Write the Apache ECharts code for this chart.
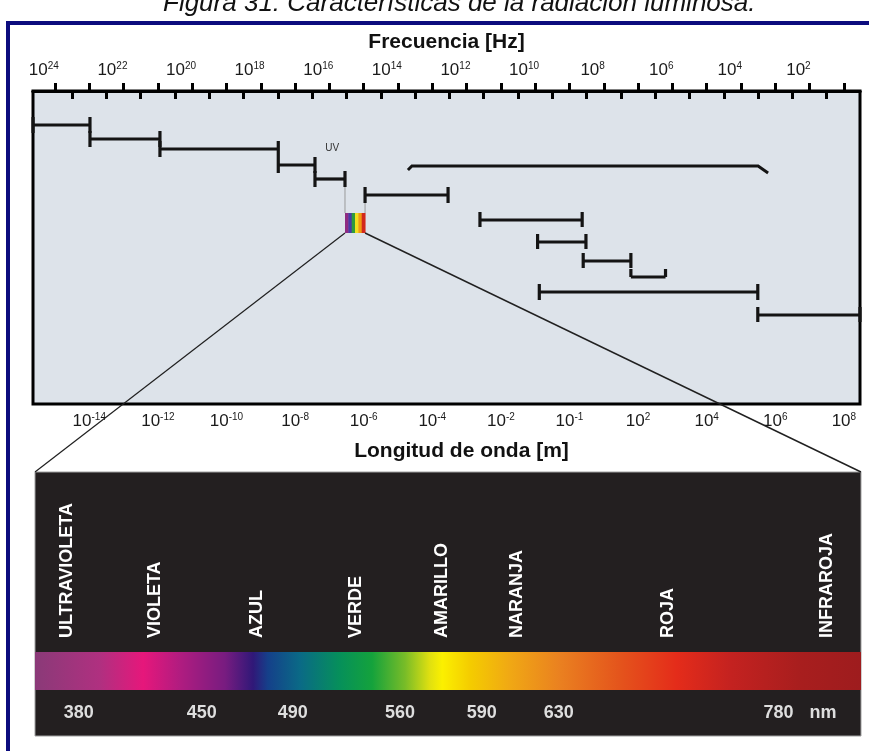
<!DOCTYPE html>
<html><head><meta charset="utf-8">
<script src="https://cdn.jsdelivr.net/npm/echarts@6/dist/echarts.min.js"></script>
<style>html,body{margin:0;padding:0;background:#fff}#c{width:869px;height:751px}</style>
</head><body><div id="c"></div>
<script>
// ================= DATA =================
// wavelength axis: log10(lambda / m)
const wlTickExps  = [-15,-14,-13,-12,-11,-10,-9,-8,-7,-6,-5,-4,-3,-2,-1,0,1,2,3,4,5,6,7,8];
const wlLabelVals = [-14,-12,-10,-8,-6,-4,-2,0,2,4,6,8];
const wlLabelExps = ['-14','-12','-10','-8','-6','-4','-2','-1','2','4','6','8'];
// frequency axis: log10(f / Hz)
const fqTickExps  = [1,2,3,4,5,6,7,8,9,10,11,12,13,14,15,16,17,18,19,20,21,22,23];
const fqLabelVals = [24,22,20,18,16,14,12,10,8,6,4,2];
const fqLabelExps = ['24','22','20','18','16','14','12','10','8','6','4','2'];
// spectral bands (range in log10 wavelength) and their row level
const barStart = [-15.64,-13.98,-11.94,-8.49,-7.42,-5.96,-2.61,-0.93,0.40,1.79,-0.88,5.49];
const barEnd   = [-13.98,-11.94,-8.49,-7.42,-6.545,-3.54,0.37,0.48,1.79,2.80,5.49,8.47];
const barLevel = [34,48,58,74,88,104,129,151,170,186,201,224];
// long bracket
const bracketRange = [-4.71, 5.79];
const bracketLevel = 75;
// visible window
const visibleRange = [-6.545, -5.96];
const visibleLevels = [122, 142];
const visibleStripes = ['#8e2c82','#4a3aa6','#2e9c3c','#f0e020','#f09a12','#d2281c'];
// small text inside the chart
const uvLabel = {text:'UV', exp:-6.92, level:57};
// visible spectrum panel (fractions of the panel width)
const specNames   = ['ULTRAVIOLETA','VIOLETA','AZUL','VERDE','AMARILLO','NARANJA','ROJA','INFRAROJA'];
const specNamePos = [0.039,0.145,0.269,0.389,0.493,0.583,0.766,0.959];
const nmLabels    = ['380','450','490','560','590','630','780'];
const nmPos       = [0.053,0.202,0.312,0.442,0.541,0.634,0.900];
const nmUnit      = {text:'nm', pos:0.954};
const gradPos   = [0,0.079,0.131,0.176,0.230,0.264,0.282,0.321,0.369,0.408,0.448,0.478,0.493,0.527,0.575,0.636,0.708,0.777,0.842,0.926,1];
const gradColor = ['#8a3a78','#b03080','#e6177b','#b01c80','#781c80','#301878','#15408a','#0a6a86','#06905a','#14a23c','#78bc28','#e0e010','#fbf000','#f4cc00','#f0a814','#ea8020','#e4541c','#e42c1a','#c42220','#a81e1e','#9e1c1e'];

// ================= LAYOUT / STYLE =================
const FONT = '"Liberation Sans", Arial, sans-serif';
const PANEL = {left:35, top:472, right:8, bottom:15};
const CAP = 8;
const capDown = [8,8,8,8,8,8,7,7,7,0,8,7];
const INK = '#141414';

function supRich(){
  return {
    b:{fontSize:17, fontFamily:FONT, color:'#1a1a1a', lineHeight:18, verticalAlign:'bottom'},
    s:{fontSize:10, fontFamily:FONT, color:'#1a1a1a', lineHeight:10, verticalAlign:'top'}
  };
}

const chart = echarts.init(document.getElementById('c'), null, {renderer:'canvas'});

function renderBar(params, api){
  const i = params.dataIndex;
  const p0 = api.coord([api.value(0), api.value(2)]);
  const p1 = api.coord([api.value(1), api.value(2)]);
  const st = {stroke:INK, lineWidth:3.2, lineCap:'butt'};
  return {type:'group', children:[
    {type:'line', shape:{x1:p0[0],y1:p0[1],x2:p1[0],y2:p1[1]}, style:st},
    {type:'line', shape:{x1:p0[0],y1:p0[1]-CAP,x2:p0[0],y2:p0[1]+capDown[i]}, style:st},
    {type:'line', shape:{x1:p1[0],y1:p1[1]-CAP,x2:p1[0],y2:p1[1]+capDown[i]}, style:st}
  ]};
}

function renderBracket(params, api){
  const a = api.coord([api.value(0), api.value(2)]);
  const b = api.coord([api.value(1), api.value(2)]);
  return {type:'polyline', shape:{points:[[a[0],a[1]+4],[a[0]+4,a[1]],[b[0]-10,b[1]],[b[0],b[1]+7]]},
    style:{stroke:INK, lineWidth:3, fill:null}};
}

function renderVisible(params, api){
  const x0 = api.value(0), x1 = api.value(1), y0 = api.value(2), y1 = api.value(3);
  const tl = api.coord([x0,y0]), br = api.coord([x1,y1]);
  const w = (br[0]-tl[0]) / visibleStripes.length;
  const children = visibleStripes.map((c,k)=>({type:'rect',
    shape:{x:tl[0]+k*w, y:tl[1], width:w+0.5, height:br[1]-tl[1]}, style:{fill:c}}));
  const cl = api.coord([x0, barLevel[4]]), cr = api.coord([x1, barLevel[5]]);
  children.push({type:'line', shape:{x1:tl[0],y1:cl[1]+CAP,x2:tl[0],y2:tl[1]}, style:{stroke:'#9a9a9a',lineWidth:1}});
  children.push({type:'line', shape:{x1:br[0],y1:cr[1]+CAP,x2:br[0],y2:tl[1]}, style:{stroke:'#9a9a9a',lineWidth:1}});
  const W = api.getWidth();
  children.push({type:'line', shape:{x1:tl[0],y1:br[1],x2:PANEL.left,y2:PANEL.top}, style:{stroke:'#202020',lineWidth:1.2}});
  children.push({type:'line', shape:{x1:br[0],y1:br[1],x2:W-PANEL.right,y2:PANEL.top}, style:{stroke:'#202020',lineWidth:1.4}});
  return {type:'group', children};
}

function renderText(params, api){
  const p = api.coord([api.value(0), api.value(1)]);
  return {type:'text', x:p[0], y:p[1], style:{text:uvLabel.text, fill:'#333', fontSize:10, fontFamily:FONT, align:'center', verticalAlign:'middle'}};
}

function renderBand(params, api){
  const tl = api.coord([0, 0.682]), br = api.coord([1, 0.826]);
  return {type:'rect', shape:{x:tl[0], y:tl[1], width:br[0]-tl[0], height:br[1]-tl[1]},
    style:{fill:{type:'linear', x:0, y:0, x2:1, y2:0,
      colorStops: gradPos.map((o,k)=>({offset:o, color:gradColor[k]}))}}};
}

function renderName(params, api){
  const p = api.coord([api.value(0), 0.629]);
  return {type:'text', x:p[0], y:p[1], rotation:Math.PI/2,
    style:{text:specNames[params.dataIndex], fill:'#ffffff', fontSize:18, fontWeight:'bold', fontFamily:FONT, align:'left', verticalAlign:'middle'}};
}

function renderNm(params, api){
  const p = api.coord([api.value(0), 0.913]);
  const t = params.dataIndex < nmLabels.length ? nmLabels[params.dataIndex] : nmUnit.text;
  return {type:'text', x:p[0], y:p[1],
    style:{text:t, fill:'#dedede', fontSize:18, fontWeight:'bold', fontFamily:FONT, align:'center', verticalAlign:'middle'}};
}

const option = {
  animation:false,
  backgroundColor:'#ffffff',
  title:{text:'Figura 31: Características de la radiación luminosa.', left:163, top:-9, padding:0,
    textStyle:{fontSize:26, fontStyle:'italic', fontWeight:'normal', fontFamily:FONT, color:'#111'}},
  graphic:[
    {type:'rect', shape:{x:6, y:21, width:863, height:4}, style:{fill:'#0c0c7e'}, z:10},
    {type:'rect', shape:{x:6, y:21, width:4, height:730}, style:{fill:'#0c0c7e'}, z:10}
  ],
  grid:[
    {left:33, top:91, width:827, height:313, show:true, backgroundColor:'#dde3ea', borderColor:'#000', borderWidth:3},
    {left:PANEL.left, top:PANEL.top, right:PANEL.right, bottom:PANEL.bottom, show:true, backgroundColor:'#231f20', borderColor:'#a0a0a0', borderWidth:1}
  ],
  xAxis:[
    {gridIndex:0, type:'value', position:'bottom', min:-15.641, max:8.47,
      name:'Longitud de onda [m]', nameLocation:'middle', nameGap:37,
      nameTextStyle:{fontSize:21, fontWeight:'bold', fontFamily:FONT, color:'#111', padding:[0,0,0,30]},
      axisLine:{lineStyle:{color:'#000', width:3}},
      axisTick:{inside:true, length:8, customValues:wlTickExps, lineStyle:{color:'#000', width:3}},
      axisLabel:{customValues:wlLabelVals, margin:8,
        formatter:(v)=>{const i = wlLabelVals.indexOf(Math.round(v)); return '{b|10}{s|' + wlLabelExps[i] + '}';},
        rich:supRich()},
      splitLine:{show:false}},
    {gridIndex:0, type:'value', position:'top', inverse:true, min:0.03, max:24.141,
      name:'Frecuencia [Hz]', nameLocation:'middle', nameGap:38,
      nameTextStyle:{fontSize:21, fontWeight:'bold', fontFamily:FONT, color:'#111'},
      axisLine:{lineStyle:{color:'#000', width:3}},
      axisTick:{inside:true, length:8, customValues:fqTickExps, lineStyle:{color:'#000', width:3}},
      axisLabel:{customValues:fqLabelVals, margin:12, padding:[0,0,0,12],
        formatter:(v)=>{const i = fqLabelVals.indexOf(Math.round(v)); return '{b|10}{s|' + fqLabelExps[i] + '}';},
        rich:supRich()},
      splitLine:{show:false}},
    {gridIndex:1, type:'value', min:0, max:1, show:false}
  ],
  yAxis:[
    {gridIndex:0, type:'value', min:0, max:313, inverse:true, show:false},
    {gridIndex:1, type:'value', min:0, max:1, inverse:true, show:false}
  ],
  series:[
    {type:'custom', xAxisIndex:0, yAxisIndex:0, renderItem:renderBar, z:5,
      encode:{x:[0,1], y:2}, data: barStart.map((s,i)=>[s, barEnd[i], barLevel[i]])},
    {type:'custom', xAxisIndex:0, yAxisIndex:0, renderItem:renderBracket, z:5,
      encode:{x:[0,1], y:2}, data:[[bracketRange[0], bracketRange[1], bracketLevel]]},
    {type:'custom', xAxisIndex:0, yAxisIndex:0, renderItem:renderVisible, z:6,
      encode:{x:[0,1], y:[2,3]}, data:[[visibleRange[0], visibleRange[1], visibleLevels[0], visibleLevels[1]]]},
    {type:'custom', xAxisIndex:0, yAxisIndex:0, renderItem:renderText, z:5,
      encode:{x:0, y:1}, data:[[uvLabel.exp, uvLabel.level]]},
    {type:'custom', xAxisIndex:2, yAxisIndex:1, renderItem:renderBand, z:5,
      encode:{x:0}, data:[[0]]},
    {type:'custom', xAxisIndex:2, yAxisIndex:1, renderItem:renderName, z:6,
      encode:{x:0}, data: specNamePos.map(p=>[p])},
    {type:'custom', xAxisIndex:2, yAxisIndex:1, renderItem:renderNm, z:6,
      encode:{x:0}, data: nmPos.concat([nmUnit.pos]).map(p=>[p])}
  ]
};
chart.setOption(option);
</script>
</body></html>
